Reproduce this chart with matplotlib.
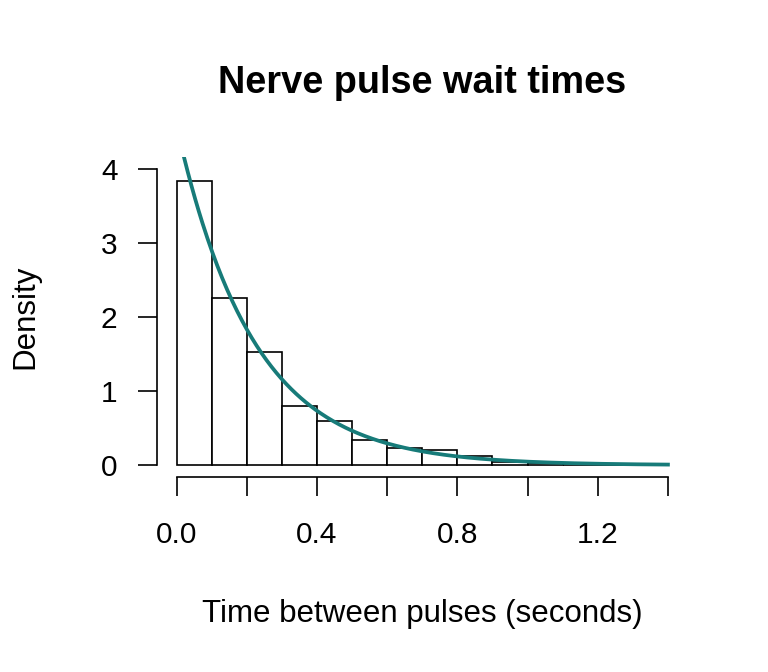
import numpy as np
import matplotlib
matplotlib.use("Agg")
import matplotlib.pyplot as plt

plt.rcParams['font.family'] = ['Liberation Sans', 'DejaVu Sans']

# Histogram bins (seconds) and densities
bin_edges = [0.0, 0.1, 0.2, 0.3, 0.4, 0.5, 0.6, 0.7, 0.8, 0.9, 1.0, 1.1, 1.2, 1.3, 1.4]
densities = [3.84, 2.26, 1.53, 0.80, 0.59, 0.34, 0.23, 0.21, 0.13, 0.04, 0.025, 0.0, 0.0, 0.0125]
exp_rate = 4.575  # 1 / mean wait time
x_ticks = [0.0, 0.2, 0.4, 0.6, 0.8, 1.0, 1.2, 1.4]
x_ticklabels = ["0.0", "", "0.4", "", "0.8", "", "1.2", ""]
y_ticks = [0, 1, 2, 3, 4]

W, H = 768, 672
fig = plt.figure(figsize=(W/100, H/100), dpi=100)
ax = fig.add_axes([157/W, 1-477/H, (687.6-157)/W, (477-157)/H])

lefts = bin_edges[:-1]
widths = np.diff(bin_edges)
ax.bar(lefts, densities, width=widths, align='edge', facecolor='white',
       edgecolor='black', linewidth=1.2)

xs = np.linspace(0, 1.4, 400)
ax.plot(xs, exp_rate*np.exp(-exp_rate*xs), color='#177b79', linewidth=2.7)

ax.set_xlim(-0.056, 1.456)
ax.set_ylim(-0.16, 4.16)
for s in ['top', 'right']:
    ax.spines[s].set_visible(False)
ax.spines['left'].set_bounds(0, 4)
ax.spines['bottom'].set_bounds(0, 1.4)
ax.spines['left'].set_linewidth(1.2)
ax.spines['bottom'].set_linewidth(1.2)
ax.set_xticks(x_ticks)
ax.set_xticklabels(x_ticklabels)
ax.set_yticks(y_ticks)
ax.set_yticklabels([str(v) for v in y_ticks])
ax.tick_params(axis='both', length=13.5, width=1.2, labelsize=21.5)
ax.tick_params(axis='x', pad=18)
ax.tick_params(axis='y', pad=15)

fig.text(422/W, 1-622/H, "Time between pulses (seconds)", fontsize=22.5,
         ha='center', va='baseline')
fig.text(25/W, 1-317/H, "Density", fontsize=22.5, rotation=90,
         ha='center', va='center')
fig.text(422/W, 1-93/H, "Nerve pulse wait times", fontsize=27.3,
         fontweight='bold', ha='center', va='baseline')

fig.savefig("out.png", dpi=100)
